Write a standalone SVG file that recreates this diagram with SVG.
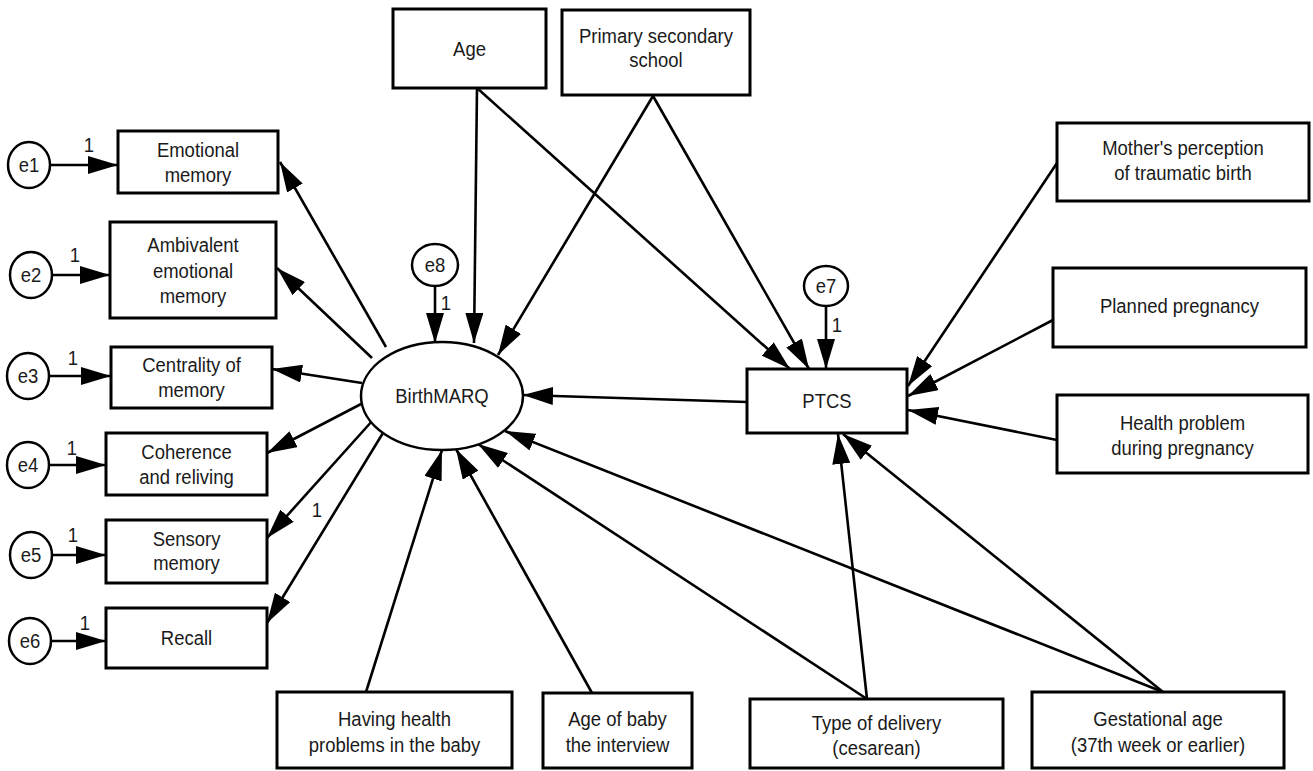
<svg xmlns="http://www.w3.org/2000/svg" width="1313" height="771" viewBox="0 0 1313 771">
<style>
.box{fill:#fff;stroke:#000;stroke-width:3}
.lat{fill:#fff;stroke:#000;stroke-width:2.5}
.t{font-family:"Liberation Sans",Arial,sans-serif;font-size:21px;text-anchor:middle;fill:#1a1a1a;transform-box:fill-box;transform-origin:center;transform:scaleX(0.88)}
.c line{stroke:#000;stroke-width:2.6;marker-end:url(#ah)}
</style>
<defs>
<marker id="ah" markerWidth="30" markerHeight="18" refX="30" refY="9" orient="auto" markerUnits="userSpaceOnUse"><path d="M0,0 L30,9 L0,18 z" fill="#000"/></marker>
</defs>
<rect width="1313" height="771" fill="#fff"/>
<g id="connectors" class="c">
<line x1="50" y1="165" x2="118" y2="165"/>
<line x1="52" y1="275" x2="110" y2="275"/>
<line x1="49" y1="376" x2="111" y2="376"/>
<line x1="49" y1="465" x2="106" y2="465"/>
<line x1="52" y1="555" x2="106" y2="555"/>
<line x1="51" y1="641" x2="106" y2="641"/>
<line x1="386" y1="347" x2="280" y2="162"/>
<line x1="372" y1="358" x2="277" y2="268"/>
<line x1="362" y1="383" x2="272" y2="369"/>
<line x1="363" y1="403" x2="267" y2="453"/>
<line x1="373" y1="420" x2="267" y2="538"/>
<line x1="386" y1="428" x2="267" y2="623"/>
<line x1="435" y1="286" x2="435" y2="343"/>
<line x1="826" y1="306" x2="826" y2="369"/>
<line x1="477" y1="88" x2="474" y2="343"/>
<line x1="477" y1="88" x2="790" y2="369"/>
<line x1="653" y1="96" x2="498" y2="355"/>
<line x1="653" y1="96" x2="809" y2="369"/>
<line x1="747" y1="402" x2="523" y2="395"/>
<line x1="1057" y1="163" x2="908" y2="386"/>
<line x1="1053" y1="320" x2="908" y2="396"/>
<line x1="1057" y1="440" x2="908" y2="410"/>
<line x1="366" y1="692" x2="442" y2="450"/>
<line x1="592" y1="693" x2="456" y2="449"/>
<line x1="867" y1="699" x2="478" y2="444"/>
<line x1="867" y1="699" x2="838" y2="434"/>
<line x1="1163" y1="692" x2="505" y2="431"/>
<line x1="1163" y1="692" x2="843" y2="434"/>
</g>
<g id="weights">
<text class="t" x="89" y="152">1</text>
<text class="t" x="75" y="262">1</text>
<text class="t" x="73" y="365">1</text>
<text class="t" x="72" y="455">1</text>
<text class="t" x="73" y="542">1</text>
<text class="t" x="85" y="630">1</text>
<text class="t" x="446" y="310">1</text>
<text class="t" x="837" y="332">1</text>
<text class="t" x="317" y="517">1</text>
</g>
<g id="e1"><ellipse class="lat" cx="29" cy="165" rx="21" ry="23"/><text class="t" x="29" y="172">e1</text></g>
<g id="e2"><ellipse class="lat" cx="31" cy="275" rx="21" ry="23"/><text class="t" x="31" y="282">e2</text></g>
<g id="e3"><ellipse class="lat" cx="28" cy="376" rx="21" ry="23"/><text class="t" x="28" y="383">e3</text></g>
<g id="e4"><ellipse class="lat" cx="28" cy="465" rx="21" ry="23"/><text class="t" x="28" y="472">e4</text></g>
<g id="e5"><ellipse class="lat" cx="31" cy="555" rx="21" ry="23"/><text class="t" x="31" y="562">e5</text></g>
<g id="e6"><ellipse class="lat" cx="30" cy="641" rx="21" ry="23"/><text class="t" x="30" y="648">e6</text></g>
<g id="emotional"><rect class="box" x="118" y="131" width="160" height="62"/><text class="t" x="198" y="157">Emotional</text><text class="t" x="198" y="182">memory</text></g>
<g id="ambivalent"><rect class="box" x="110" y="222" width="166" height="96"/><text class="t" x="193" y="252">Ambivalent</text><text class="t" x="193" y="278">emotional</text><text class="t" x="193" y="303">memory</text></g>
<g id="centrality"><rect class="box" x="111" y="347" width="161" height="61"/><text class="t" x="191.5" y="372">Centrality of</text><text class="t" x="191.5" y="397">memory</text></g>
<g id="coherence"><rect class="box" x="106" y="433" width="161" height="62"/><text class="t" x="186.5" y="459">Coherence</text><text class="t" x="186.5" y="484">and reliving</text></g>
<g id="sensory"><rect class="box" x="106" y="520" width="161" height="63"/><text class="t" x="186.5" y="546">Sensory</text><text class="t" x="186.5" y="570">memory</text></g>
<g id="recall"><rect class="box" x="106" y="608" width="161" height="60"/><text class="t" x="186.5" y="645">Recall</text></g>
<g id="age"><rect class="box" x="393" y="9" width="153" height="79"/><text class="t" x="469.5" y="56">Age</text></g>
<g id="school"><rect class="box" x="562" y="10" width="188" height="85"/><text class="t" x="656" y="43">Primary secondary</text><text class="t" x="656" y="67">school</text></g>
<g id="birthmarq"><ellipse class="lat" cx="442" cy="396" rx="81" ry="54"/><text class="t" x="442" y="403">BirthMARQ</text></g>
<g id="e8"><ellipse class="lat" cx="435" cy="265" rx="23" ry="21"/><text class="t" x="435" y="272">e8</text></g>
<g id="ptcs"><rect class="box" x="747" y="369" width="160" height="64"/><text class="t" x="827" y="408">PTCS</text></g>
<g id="e7"><ellipse class="lat" cx="826" cy="286" rx="22" ry="20"/><text class="t" x="826" y="293">e7</text></g>
<g id="mother"><rect class="box" x="1057" y="123" width="252" height="78"/><text class="t" x="1183" y="155">Mother's perception</text><text class="t" x="1183" y="180">of traumatic birth</text></g>
<g id="planned"><rect class="box" x="1053" y="268" width="253" height="79"/><text class="t" x="1179.5" y="313">Planned pregnancy</text></g>
<g id="healthpreg"><rect class="box" x="1057" y="395" width="251" height="78"/><text class="t" x="1182.5" y="430">Health problem</text><text class="t" x="1182.5" y="455">during pregnancy</text></g>
<g id="babyhealth"><rect class="box" x="277" y="692" width="235" height="76"/><text class="t" x="394.5" y="726">Having health</text><text class="t" x="394.5" y="752">problems in the baby</text></g>
<g id="babyage"><rect class="box" x="543" y="693" width="149" height="75"/><text class="t" x="617.5" y="726">Age of baby</text><text class="t" x="617.5" y="752">the interview</text></g>
<g id="delivery"><rect class="box" x="750" y="699" width="253" height="69"/><text class="t" x="876.5" y="730">Type of delivery</text><text class="t" x="876.5" y="755">(cesarean)</text></g>
<g id="gestational"><rect class="box" x="1032" y="692" width="252" height="76"/><text class="t" x="1158" y="726">Gestational age</text><text class="t" x="1158" y="752">(37th week or earlier)</text></g>
</svg>
